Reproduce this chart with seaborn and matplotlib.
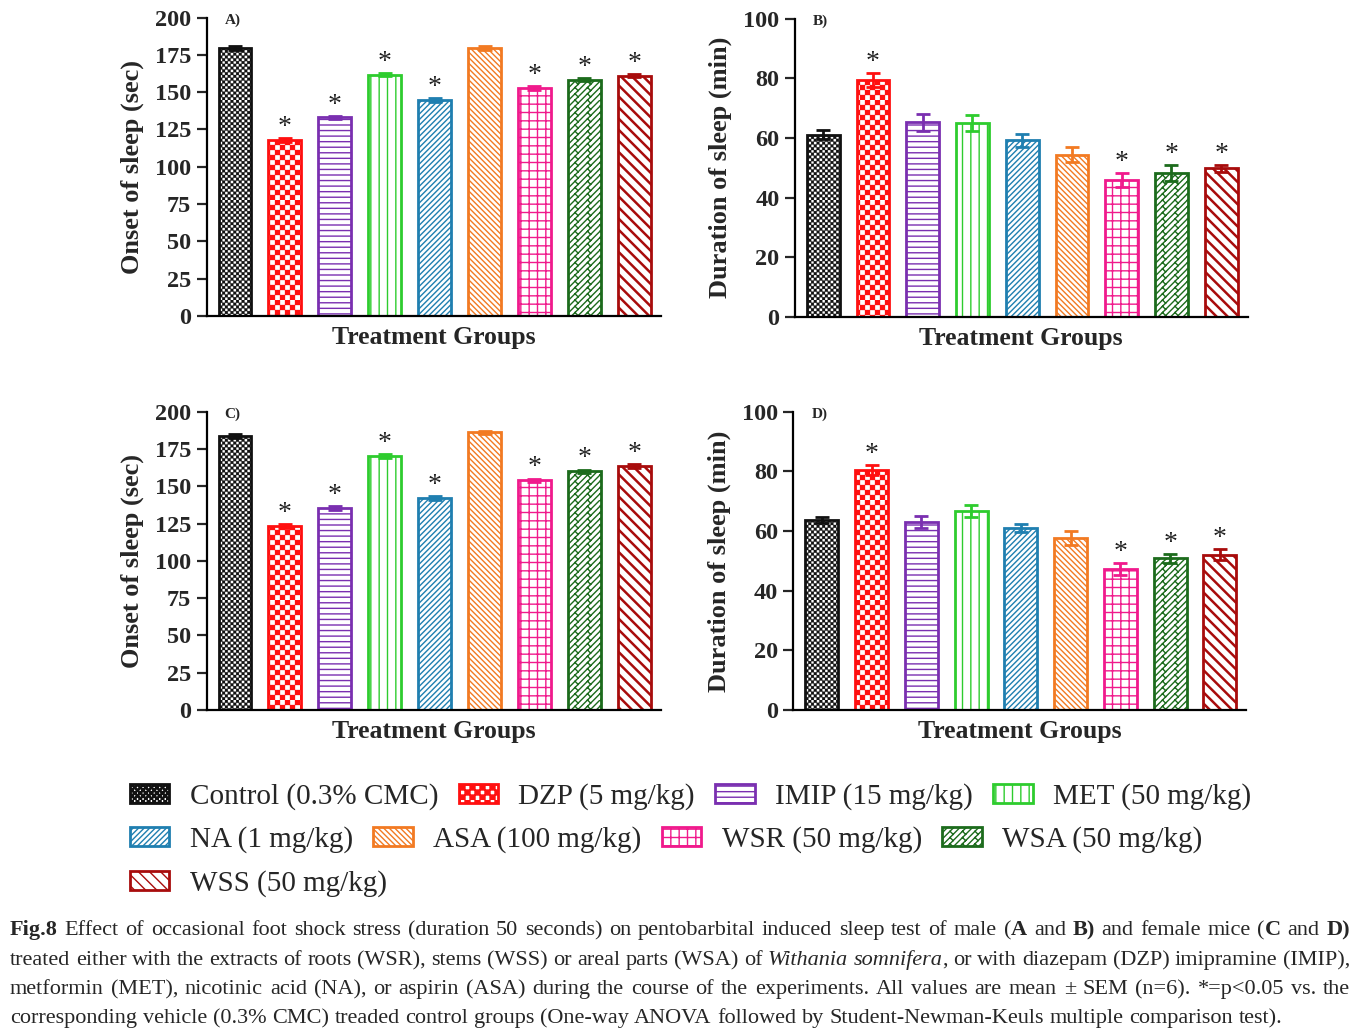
import re
import warnings
import numpy as np
import pandas as pd
import matplotlib
matplotlib.use("Agg")
import matplotlib.pyplot as plt
import matplotlib.hatch as mhatch
from matplotlib.path import Path
import seaborn as sns

warnings.filterwarnings("ignore")

# ---- data ----
groups = ["Control (0.3% CMC)", "DZP (5 mg/kg)", "IMIP (15 mg/kg)", "MET (50 mg/kg)",
          "NA (1 mg/kg)", "ASA (100 mg/kg)", "WSR (50 mg/kg)", "WSA (50 mg/kg)", "WSS (50 mg/kg)"]

onset_male = [179.5, 118.0, 133.0, 161.7, 144.7, 179.4, 152.8, 158.4, 161.1]
onset_male_sem = [1.2, 1.2, 1.2, 1.2, 1.2, 1.2, 1.2, 1.2, 1.2]
onset_male_sig = [0, 1, 1, 1, 1, 0, 1, 1, 1]

duration_male = [61.0, 79.4, 65.2, 65.0, 59.2, 54.4, 45.8, 48.2, 49.8]
duration_male_sem = [1.5, 2.4, 2.8, 2.8, 2.2, 2.4, 2.3, 2.6, 1.2]
duration_male_sig = [0, 1, 0, 0, 0, 0, 1, 1, 1]

onset_female = [183.7, 123.4, 135.6, 170.3, 142.3, 186.1, 154.0, 160.0, 163.6]
onset_female_sem = [1.2, 1.2, 1.2, 1.2, 1.2, 1.2, 1.2, 1.2, 1.2]
onset_female_sig = [0, 1, 1, 1, 1, 0, 1, 1, 1]

duration_female = [63.8, 80.5, 63.1, 66.7, 61.1, 57.6, 47.3, 50.9, 52.1]
duration_female_sem = [1.0, 1.7, 2.0, 2.1, 1.4, 2.3, 2.0, 1.5, 1.9]
duration_female_sig = [0, 1, 0, 0, 0, 0, 1, 1, 1]

colors = ["#111111", "#ff1010", "#7a2fb0", "#2ecc2e", "#1f7fb0",
          "#f27a22", "#f01a8c", "#1c6b1c", "#a80c0c"]
# k = checker, b = diagonal brick (custom patterns registered below)
hatches = ["kkkkkkkkk", "kkkkk", "---", "||", "//////", "\\" * 6, "++", "b", "\\" * 3]
hatch_lw = [0.2, 0.2, 1.0, 1.0, 1.0, 1.0, 1.0, 1.0, 1.8]

# legend rows as laid out in the figure (each row flows on its own)
legend_rows = [[0, 1, 2, 3], [4, 5, 6, 7], [8]]
legend_row_y = [797, 840, 884]


# ---- custom hatch patterns ----
class CheckerHatch(mhatch.HatchPatternBase):
    def __init__(self, hatch, density):
        self.n = 4 * hatch.count("k")
        self.num_vertices = (self.n * self.n // 2) * 5

    def set_vertices_and_codes(self, vertices, codes):
        s = 1.0 / self.n
        squares = []
        for i in range(self.n):
            for j in range(self.n):
                if (i + j) % 2 == 0:
                    x0, y0, x1, y1 = i * s, j * s, (i + 1) * s, (j + 1) * s
                    squares.append([[x0, y0], [x1, y0], [x1, y1], [x0, y1], [x0, y0]])
        vertices[:] = np.array(squares).reshape(-1, 2)
        codes[:] = np.tile([Path.MOVETO, Path.LINETO, Path.LINETO,
                            Path.LINETO, Path.CLOSEPOLY], len(squares))


class BrickHatch(mhatch.HatchPatternBase):
    m, s = 16, 8

    def __init__(self, hatch, density):
        if "b" in hatch:
            self.num_vertices = 2 * (2 * self.m) * (1 + self.s + 2)
        else:
            self.num_vertices = 0

    def set_vertices_and_codes(self, vertices, codes):
        segs = []
        h = 1.0 / (2 * self.m)
        for k in range(-self.m, self.m):
            c = k / self.m
            segs.append([[c, 0.0], [c + 1.0, 1.0]])
            for j in range(-1, self.s + 1):
                t = (j + 0.5 * (k % 2)) / self.s
                segs.append([[t + c, t], [t + c + h, t - h]])
        vertices[:] = np.array(segs).reshape(-1, 2)
        codes[:] = np.tile([Path.MOVETO, Path.LINETO], len(segs))


mhatch._hatch_types.append(CheckerHatch)
mhatch._hatch_types.append(BrickHatch)

# ---- style ----
sns.set_theme(style="ticks")
plt.rcParams["font.family"] = ["Liberation Serif", "DejaVu Serif"]
plt.rcParams["axes.linewidth"] = 1.6

fig = plt.figure(figsize=(13.68, 10.32), dpi=100)
W, H = 1368, 1032

panels = [
    ("A)", onset_male, onset_male_sem, onset_male_sig, "Onset of sleep (sec)", 200, 25,
     [0.151, 0.694, 0.332, 0.289]),
    ("B)", duration_male, duration_male_sem, duration_male_sig, "Duration of sleep (min)", 100, 20,
     [0.581, 0.693, 0.331, 0.289]),
    ("C)", onset_female, onset_female_sem, onset_female_sig, "Onset of sleep (sec)", 200, 25,
     [0.151, 0.312, 0.332, 0.289]),
    ("D)", duration_female, duration_female_sem, duration_female_sig, "Duration of sleep (min)", 100, 20,
     [0.580, 0.312, 0.331, 0.289]),
]

legend_handles = None
for tag, vals, sems, sig, ylab, ymax, ystep, rect in panels:
    ax = fig.add_axes(rect)
    df = pd.DataFrame({"group": groups, "value": vals})
    sns.barplot(data=df, x="group", y="value", hue="group", palette=colors,
                legend=False, width=0.66, ax=ax)
    xs = ax.get_xticks()
    bars = sorted(ax.patches, key=lambda p: p.get_x())
    for p, c, h, hl in zip(bars, colors, hatches, hatch_lw):
        p.set_facecolor("white")
        p.set_edgecolor(c)
        p.set_linewidth(2.0)
        p.set_hatch(h)
        if hasattr(p, "set_hatch_linewidth"):
            p.set_hatch_linewidth(hl)
        else:
            p._hatch_linewidth = hl
    for x, v, e, c, s in zip(xs, vals, sems, colors, sig):
        ax.errorbar(x, v, yerr=e, fmt="none", ecolor=c, elinewidth=2.0,
                    capsize=4.8, capthick=2.0, zorder=3)
        if s:
            ax.annotate("*", (x, v + e), xytext=(0, 3), textcoords="offset points",
                        ha="center", va="baseline", fontsize=20, color="#222222")
    ax.set_xlim(-0.57, 8.53)
    ax.set_ylim(0, ymax)
    ax.set_yticks(np.arange(0, ymax + 1, ystep))
    ax.tick_params(axis="x", length=0, labelbottom=False)
    ax.tick_params(axis="y", direction="out", length=7, width=1.6, labelsize=17.5, pad=4)
    for lab in ax.get_yticklabels():
        lab.set_fontweight("bold")
    sns.despine(ax=ax)
    for sp in ("left", "bottom"):
        ax.spines[sp].set_color("black")
    ax.set_ylabel(ylab, fontsize=19, fontweight="bold", labelpad=8)
    ax.set_xlabel("Treatment Groups", fontsize=18.5, fontweight="bold", labelpad=7)
    ax.text(0.04, 0.99, tag, transform=ax.transAxes, fontsize=11, fontweight="bold",
            ha="left", va="center")
    if legend_handles is None:
        legend_handles = bars

# ---- legend, one row at a time ----
for row, ry in zip(legend_rows, legend_row_y):
    fig.legend([legend_handles[i] for i in row], [groups[i] for i in row],
               ncol=len(row), loc="center left", bbox_to_anchor=(130 / W, 1 - ry / H),
               frameon=False, fontsize=21, handlelength=1.35, handleheight=0.62,
               handletextpad=0.7, columnspacing=0.7, borderpad=0, borderaxespad=0)

# ---- caption, justified ----
caption_lines = [
    "**Fig.8** Effect of occasional foot shock stress (duration 50 seconds) on pentobarbital induced "
    "sleep test of male (**A** and **B)** and female mice (**C** and **D)**",
    "treated either with the extracts of roots (WSR), stems (WSS) or areal parts (WSA) of "
    "_Withania somnifera_, or with diazepam (DZP) imipramine (IMIP),",
    "metformin (MET), nicotinic acid (NA), or aspirin (ASA) during the course of the experiments. "
    "All values are mean ± SEM (n=6). *=p<0.05 vs. the",
    "corresponding vehicle (0.3% CMC) treaded control groups (One-way ANOVA followed by "
    "Student-Newman-Keuls multiple comparison test).",
]
cap_size = 16
x_left, x_right = 10, 1350
baselines = [935, 965, 994, 1023]

renderer = fig.canvas.get_renderer()
t1 = fig.text(0, 0, "a a", fontsize=cap_size)
t2 = fig.text(0, 0, "aa", fontsize=cap_size)
space_w = t1.get_window_extent(renderer).width - t2.get_window_extent(renderer).width
t1.remove()
t2.remove()

bold = italic = False
for li, line in enumerate(caption_lines):
    words = []
    for w in line.split(" "):
        runs = []
        for piece in re.split(r"(\*\*|_)", w):
            if piece == "**":
                bold = not bold
            elif piece == "_":
                italic = not italic
            elif piece:
                runs.append((piece, bold, italic))
        words.append(runs)
    widths = []
    texts = []
    for runs in words:
        ww = 0
        objs = []
        for txt, b, it in runs:
            t = fig.text(0, 0, txt, fontsize=cap_size, fontweight="bold" if b else "normal",
                         fontstyle="italic" if it else "normal", va="baseline", ha="left")
            wpx = t.get_window_extent(renderer).width
            objs.append((t, wpx))
            ww += wpx
        widths.append(ww)
        texts.append(objs)
    if li < len(caption_lines) - 1:
        gap = (x_right - x_left - sum(widths)) / (len(words) - 1)
    else:
        gap = space_w
    x = x_left
    y = 1 - baselines[li] / H
    for objs, ww in zip(texts, widths):
        xx = x
        for t, wpx in objs:
            t.set_position((xx / W, y))
            xx += wpx
        x += ww + gap

fig.savefig("out.png", dpi=100)
